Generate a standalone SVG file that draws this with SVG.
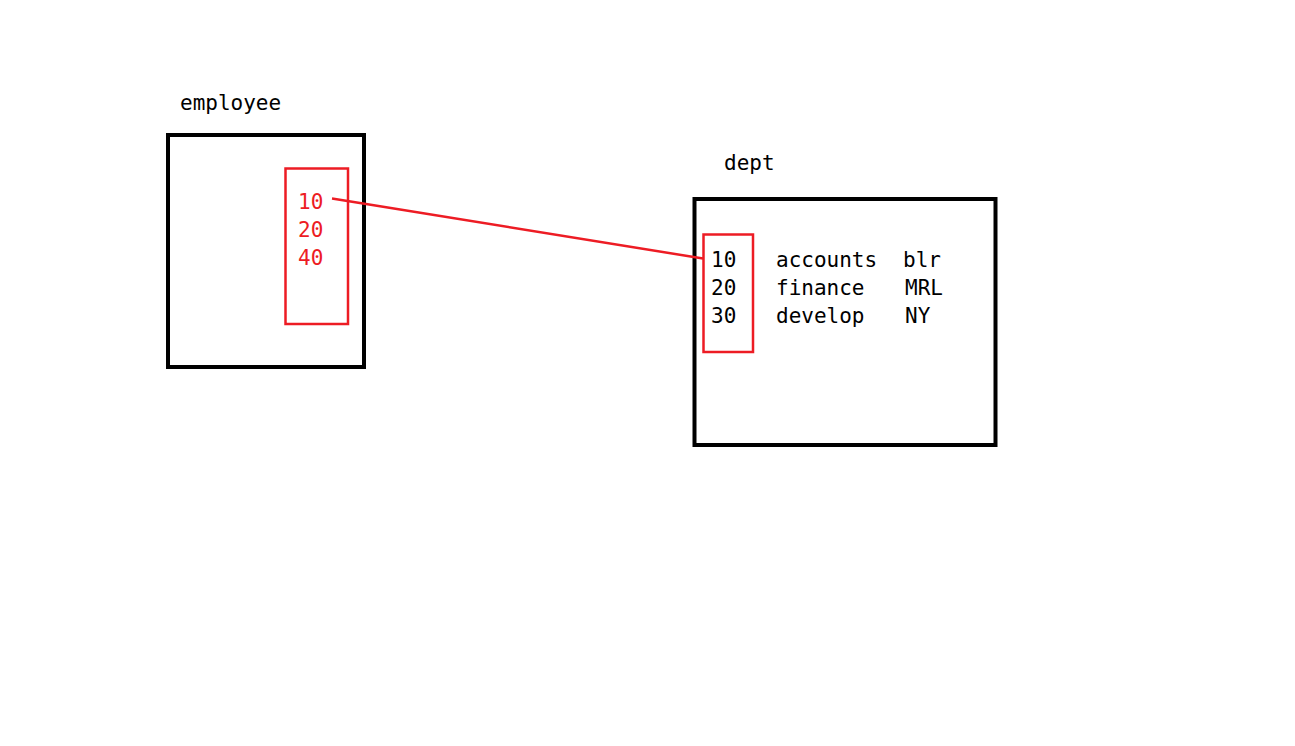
<svg xmlns="http://www.w3.org/2000/svg" width="1295" height="746" viewBox="0 0 1295 746">
<style>
.box{fill:none;stroke:#000;stroke-width:4}
.rbox{fill:none;stroke:#ED1C24;stroke-width:2.5}
.t{font-family:"DejaVu Sans Mono","Liberation Mono",monospace;font-size:21px;fill:#000}
.r{fill:#ED1C24}
.conn{stroke:#ED1C24;stroke-width:2.5;fill:none}
</style>
<rect width="1295" height="746" fill="#fff"/>
<g id="employee">
<text class="t" x="180" y="110">employee</text>
<rect class="box" x="168" y="135" width="196" height="232"/>
<rect class="rbox" x="285.5" y="168.5" width="62.5" height="155.5"/>
<text class="t r" x="298" y="209">10</text>
<text class="t r" x="298" y="237">20</text>
<text class="t r" x="298" y="265">40</text>
</g>
<g id="dept">
<text class="t" x="724" y="170">dept</text>
<rect class="box" x="694.5" y="199" width="301" height="246"/>
<rect class="rbox" x="703.5" y="234.5" width="49.5" height="117.5"/>
<text class="t" x="711" y="267">10</text>
<text class="t" x="711" y="295">20</text>
<text class="t" x="711" y="323">30</text>
<text class="t" x="776" y="267">accounts</text>
<text class="t" x="776" y="295">finance</text>
<text class="t" x="776" y="323">develop</text>
<text class="t" x="903" y="267">blr</text>
<text class="t" x="905" y="295">MRL</text>
<text class="t" x="905" y="323">NY</text>
</g>
<g id="connectors">
<line class="conn" x1="332" y1="198.5" x2="703" y2="258.5"/>
</g>
</svg>
